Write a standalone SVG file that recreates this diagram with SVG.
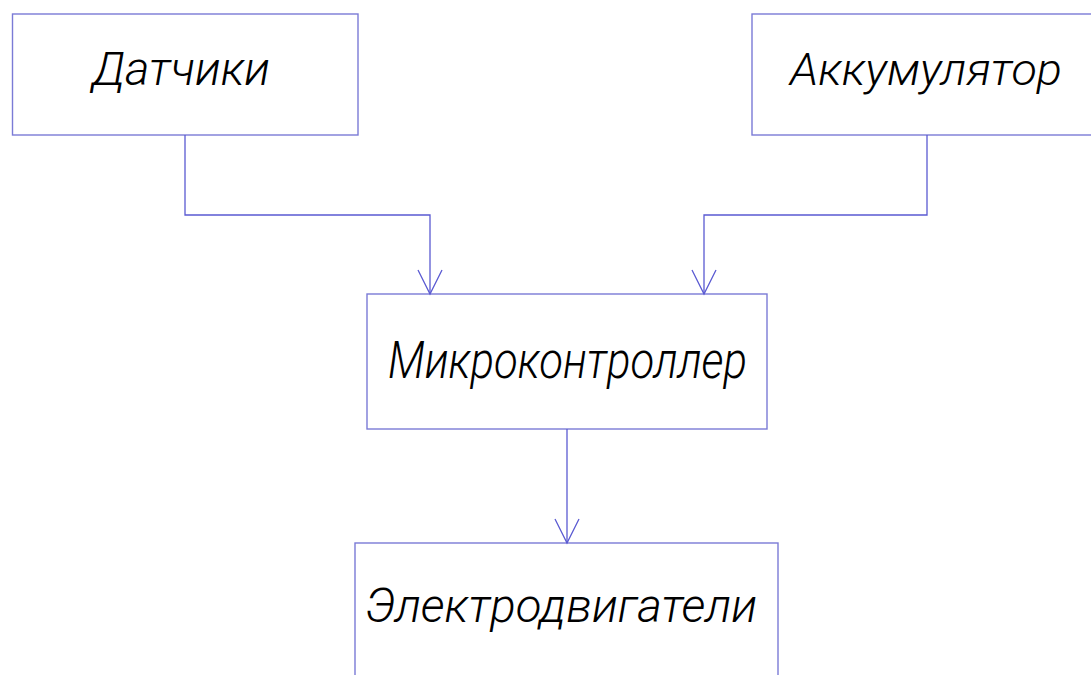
<svg xmlns="http://www.w3.org/2000/svg" width="1091" height="675" viewBox="0 0 1091 675">
  <defs>
    <style>
      .box { fill: #ffffff; stroke: #7b7bd6; stroke-width: 1.4; }
      .wire { fill: none; stroke: #5a5ad2; stroke-width: 1.3; }
      .label { font-family: Roboto, "Open Sans", "Liberation Sans", sans-serif; font-style: italic; font-weight: 300; fill: #000000; }
    </style>
    <!-- open V arrowhead -->
    <marker id="vee" markerUnits="userSpaceOnUse" markerWidth="30" markerHeight="30" viewBox="-15 -26 30 30" refX="0" refY="0" orient="0" overflow="visible">
      <path d="M -12 -24 L 0 0 L 12 -24" fill="none" stroke="#5a5ad2" stroke-width="1.3"/>
    </marker>
  </defs>

  <rect width="1091" height="675" fill="#ffffff"/>

  <g id="sensors">
    <rect class="box" x="12.5" y="14" width="345.5" height="121"/>
    <text class="label" x="92" y="85" font-size="46" textLength="178" lengthAdjust="spacingAndGlyphs">Датчики</text>
  </g>

  <g id="battery">
    <rect class="box" x="752" y="14" width="360" height="121"/>
    <text class="label" x="790" y="85" font-size="44" textLength="272" lengthAdjust="spacingAndGlyphs">Аккумулятор</text>
  </g>

  <g id="controller">
    <rect class="box" x="367" y="294" width="400" height="135"/>
    <text class="label" x="388" y="378" font-size="52" textLength="359" lengthAdjust="spacingAndGlyphs">Микроконтроллер</text>
  </g>

  <g id="motors">
    <rect class="box" x="355" y="543" width="423" height="150"/>
    <text class="label" x="365" y="622" font-size="48" textLength="392" lengthAdjust="spacingAndGlyphs">Электродвигатели</text>
  </g>

  <g id="connectors">
    <polyline class="wire" points="185,135 185,215 430,215 430,294" marker-end="url(#vee)"/>
    <polyline class="wire" points="927,135 927,215 704,215 704,294" marker-end="url(#vee)"/>
    <polyline class="wire" points="567,429 567,543" marker-end="url(#vee)"/>
  </g>
</svg>
